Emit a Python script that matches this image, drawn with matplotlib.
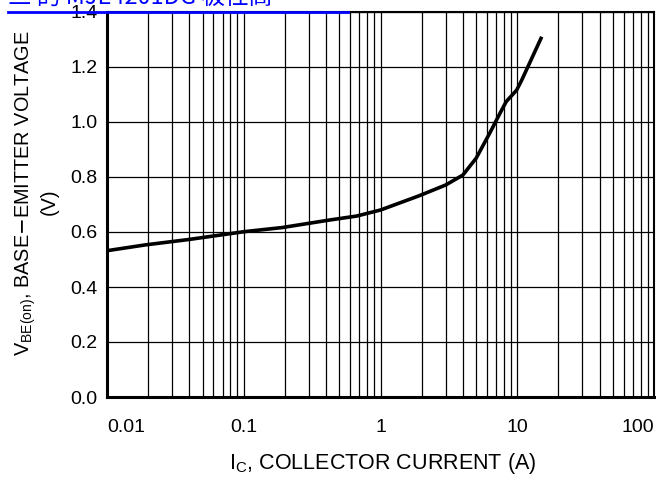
"""V_BE(on) vs I_C, по картинке из даташита"""

import matplotlib
matplotlib.use('Agg')
import matplotlib.pyplot as plt
from matplotlib.ticker import FixedLocator, NullFormatter
from matplotlib.lines import Line2D

plt.rcParams['font.family'] = ['Liberation Sans', 'DejaVu Sans']

# данные
ic_amps = [0.01, 0.019, 0.04, 0.1, 0.19, 0.43, 0.67, 1.0, 1.9, 3.0, 4.0,
           5.0, 6.3, 7.5, 8.3, 9.9, 10.8, 15.1]
vbe_volts = [0.532, 0.553, 0.573, 0.601, 0.616, 0.644, 0.658, 0.68, 0.731, 0.771, 0.807,
             0.868, 0.96, 1.033, 1.074, 1.116, 1.153, 1.31]

x_ticks = [0.01, 0.1, 1, 10, 100]
x_tick_labels = ['0.01', '0.1', '1', '10', '100']
y_ticks = [0.0, 0.2, 0.4, 0.6, 0.8, 1.0, 1.2, 1.4]
y_tick_labels = ['0.0', '0.2', '0.4', '0.6', '0.8', '1.0', '1.2', '1.4']

W, H = 656, 480
fig = plt.figure(figsize=(W / 100, H / 100), dpi=100)
ax = fig.add_axes([107 / W, (H - 397) / H, 547 / W, 385 / H])

ax.set_xscale('log')
ax.set_xlim(0.01, 100)
ax.set_ylim(0, 1.4)

# сетка: все 1..9 в каждой декаде
minor = [m * 10 ** e for e in range(-2, 2) for m in range(2, 10)]
ax.set_xticks(x_ticks)
ax.set_xticklabels(x_tick_labels)
ax.xaxis.set_minor_locator(FixedLocator(minor))
ax.xaxis.set_minor_formatter(NullFormatter())
ax.set_yticks(y_ticks)
ax.set_yticklabels(y_tick_labels)

ax.grid(True, which='both', axis='x', color='black', linewidth=0.9)
ax.grid(True, which='major', axis='y', color='black', linewidth=0.9)
ax.tick_params(which='both', length=0, labelsize=14)
ax.tick_params(axis='x', which='major', pad=16)
ax.tick_params(axis='y', pad=7)

xl = ax.get_xticklabels()
xl[0].set_ha('left')
xl[-1].set_ha('right')

for side in ['left', 'bottom']:
    ax.spines[side].set_linewidth(2.2)
ax.spines['top'].set_linewidth(1.5)
ax.spines['right'].set_linewidth(1.5)

ax.plot(ic_amps, vbe_volts, color='black', linewidth=2.6, solid_capstyle='butt', zorder=5)

# подписи осей
fig.text(26 / W, 1 - 193 / H, r'V$_{\mathregular{BE(on)}}$, BASE$-$EMITTER VOLTAGE',
         rotation=90, ha='center', va='center', fontsize=14.3)
fig.text(49 / W, 1 - 202 / H, '(V)', rotation=90, ha='center', va='center', fontsize=14.3)
fig.text(383 / W, 1 - 464 / H, r'I$_{\mathregular{C}}$, COLLECTOR CURRENT (A)',
         ha='center', va='center', fontsize=15.5)

# обрезанная синяя ссылка сверху
fig.text(8 / W, 1 - 4 / H, '三 的 MJE4201DG 极性高', color='#0000ff', fontsize=17,
         family=['Noto Sans CJK SC', 'DejaVu Sans'], ha='left', va='baseline')
fig.add_artist(Line2D([8 / W, 348 / W], [1 - 12 / H, 1 - 12 / H],
                      transform=fig.transFigure, color='#0000ff', linewidth=2))

fig.savefig('out.png', dpi=100)
